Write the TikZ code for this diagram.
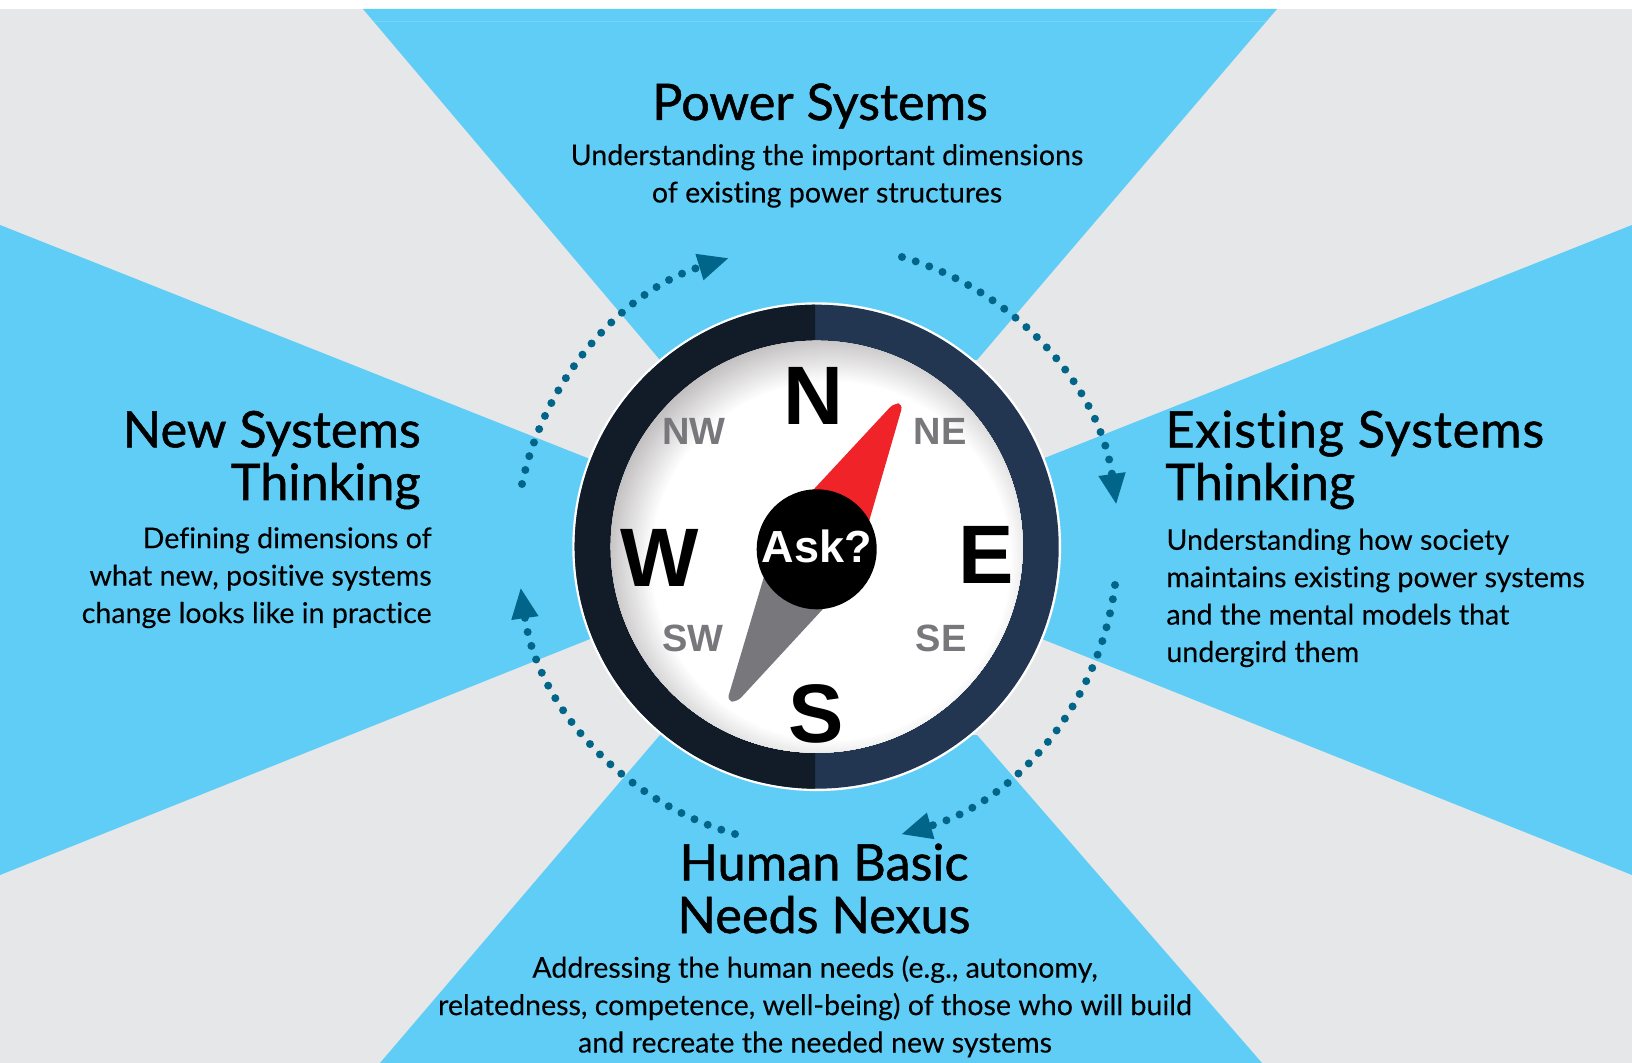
\documentclass[tikz,border=0pt]{standalone}
\usepackage{fontspec}
\usetikzlibrary{arrows.meta}
\setmainfont{Lato}[Ligatures=NoCommon,FakeBold=0.15]
\newfontfamily\arialbold{Liberation Sans Bold}
\newfontfamily\ttl{Lato}[FakeBold=1.0,Ligatures=NoCommon]
\newfontfamily\ttlwide{Lato}[FakeBold=1.0,Ligatures=NoCommon,LetterSpace=1.7]
\definecolor{skyb}{HTML}{5FCDF6}
\definecolor{pale}{HTML}{E6E7E8}
\definecolor{ringl}{HTML}{121C28}
\definecolor{ringr}{HTML}{223652}
\definecolor{dotc}{HTML}{006589}
\definecolor{redn}{HTML}{EF2328}
\definecolor{grayn}{HTML}{77777C}
\definecolor{shadeg}{HTML}{BDBABC}
\tikzset{
 x=0.5pt,y=-0.5pt,
 wedge/.style={fill=skyb,draw=none},
 ttlnode/.style={inner sep=0,font=\ttl\fontsize{25.2}{26.3}\selectfont,text=black},
 bodynode/.style={inner sep=0,font=\fontsize{14.3}{18.7}\selectfont,text=black},
 card/.style={inner sep=0,anchor=base,font=\arialbold\fontsize{41.5}{41.5}\selectfont,text=black},
 inter/.style={inner sep=0,anchor=base,font=\arialbold\fontsize{19}{19}\selectfont,text=grayn},
 dotarc/.style={draw=dotc,line width=4pt,line cap=round,dash pattern=on 0pt off 7.2pt,-{Triangle[length=15.5pt,width=12.5pt,fill=dotc]}},
}
\begin{document}
\begin{tikzpicture}
\useasboundingbox (0,0) rectangle (1632,1063);
\fill[white] (0,0) rectangle (1632,1063);
\fill[pale] (0,9) rectangle (1632,1063);
\fill[wedge] (363,9) -- (1277,9) -- (977,360) -- (660,360) -- cycle;
\draw[skyb!85!white,line width=0.4pt] (374,21) -- (1266,21);
\fill[wedge] (0,225) -- (600,463) -- (600,635) -- (0,875) -- cycle;
\fill[wedge] (1632,225) -- (1032,463) -- (1032,635) -- (1632,875) -- cycle;
\fill[wedge] (380,1063) -- (660,735) -- (977,735) -- (1262,1063) -- cycle;
% dial
\coordinate (c) at (816.7,546.7);
\node[circle,fill=white,draw=none,minimum size=244.4pt,inner sep=0] (bezel) at (c) {};
\fill[ringr] (c) circle[radius=242];
\begin{scope}
\clip (500,250) rectangle (815,850);
\fill[ringl] (c) circle[radius=242];
\end{scope}
\begin{scope}
\clip (c) circle[radius=206];
\fill[shadeg] (c) circle[radius=206];
\foreach \i in {0,...,24}{
  \pgfmathtruncatemacro\p{100-4*\i}
  \fill[shadeg!\p!white] (831,561) circle[radius={230-2*\i}];
}
\fill[white] (831,561) circle[radius=180];
\end{scope}
% needles
\fill[redn] (790,514) -- (815,488) [rounded corners=3pt] -- (894,403) -- (903,404) [sharp corners] -- (870,518) -- (860,553) -- cycle;
\fill[grayn] (775,540) -- (763,580) [rounded corners=3pt] -- (727,701) -- (737,702) [sharp corners] -- (822,610) -- (850,578) -- cycle;
\node[circle,fill=black,minimum size=60pt,inner sep=0] (hub) at (816.7,549.3) {};
\node[inner sep=0,anchor=base,text=white,font=\arialbold\fontsize{22.5}{22.5}\selectfont] (asklbl) at (817,562) {Ask?};
% cardinal points
\node[card] (n) at (813,425) {N};
\node[card] (s) at (816,742) {S};
\node[card] (e) at (986,583) {E};
\node[card] (w) at (660,586) {W};
\node[inter] (nw) at (694,445) {NW};
\node[inter] (ne) at (940,445) {NE};
\node[inter] (sw) at (693,651) {SW};
\node[inter] (se) at (941,651) {SE};
% dotted arcs
\coordinate (a1) at (902,257);
\coordinate (a2) at (1115,585);
\coordinate (a3) at (735,834);
\coordinate (a4) at (522,484);
\draw[dotarc] (a1) arc[start angle=-73.7,end angle=-8,radius=302];
\draw[dotarc] (a2) arc[start angle=7.3,end angle=74,radius=299];
\draw[dotarc] (a3) arc[start angle=106,end angle=172,radius=300];
\draw[dotarc] (a4) arc[start angle=192,end angle=253,radius=302];
% texts
\node[ttlnode,anchor=base] (pt) at (820,120) {Power Systems};
\node[bodynode,anchor=base,align=center] (pb) at (827,202.5) {Understanding the important dimensions\\of existing power structures};
\node[ttlnode,anchor=base east,align=right] (nt) at (421,500) {New Systems\\Thinking};
\node[bodynode,anchor=base east,align=right] (nb) at (432,623) {Defining dimensions of\\what new, positive systems\\change looks like in practice};
\node[ttlnode,anchor=base west,align=left] (et) at (1165,500) {{\ttlwide Existing Systems}\\Thinking};
\node[bodynode,anchor=base west,align=left] (eb) at (1166,662) {Understanding how society\\maintains existing power systems\\and the mental models that\\undergird them};
\node[ttlnode,anchor=base,align=center] (ht) at (824,933) {Human Basic\\Needs Nexus};
\node[bodynode,anchor=base,align=center] (hb) at (815,1052.5) {Addressing the human needs (e.g., autonomy,\\relatedness, competence, well-being) of those who will build\\and recreate the needed new systems};
\end{tikzpicture}
\end{document}
